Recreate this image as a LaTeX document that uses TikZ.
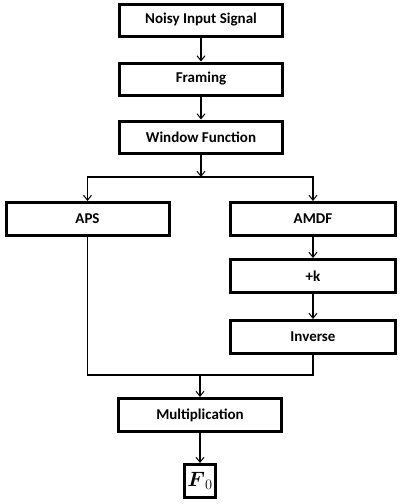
\documentclass[tikz,border=0pt]{standalone}
\usepackage{fontspec}
\setmainfont{Carlito}
\usepackage{amsmath}
\usetikzlibrary{arrows.meta}
\begin{document}
\begin{tikzpicture}[x=1pt,y=1pt,
  blk/.style={draw,line width=3pt,minimum width=163pt,minimum height=32pt,inner sep=0pt,font=\bfseries\fontsize{15}{17}\selectfont},
  conn/.style={line width=1.3pt},
  arr/.style={conn,-{Straight Barb[length=5pt,width=8pt,line width=1pt]}}]
\useasboundingbox (0,0) rectangle (400,-504);
\node[blk] (noisy) at (201,-20) {Noisy Input Signal};
\node[blk] (fram) at (201,-79) {Framing};
\node[blk] (win) at (201,-137) {Window Function};
\node[blk,minimum height=33pt] (aps) at (87.5,-219) {APS};
\node[blk,minimum height=33pt,minimum width=165pt] (amdf) at (313,-219) {AMDF};
\node[blk,minimum height=33pt,minimum width=165pt] (k) at (313,-276) {+k};
\node[blk,minimum height=33pt,minimum width=165pt] (inv) at (313,-337) {Inverse};
\node[blk,minimum height=33pt] (mult) at (200,-415) {Multiplication};
\node[draw,line width=3pt,minimum width=31pt,minimum height=33pt,inner sep=0pt,font=\fontsize{20}{22}\selectfont] (f0) at (200,-481) {$\boldsymbol{F}_0$};
\coordinate (branch) at (201,-177);
\coordinate (join) at (200,-375);
\draw[arr] (noisy) -- (fram);
\draw[arr] (fram) -- (win);
\draw[arr] (win) -- (branch);
\draw[arr] (branch) -| (aps.north);
\draw[arr] (branch) -| (amdf.north);
\draw[arr] (amdf) -- (k);
\draw[arr] (k) -- (inv);
\draw[conn] (aps.south) |- (join) -| (inv.south);
\draw[arr] (join) -- (mult);
\draw[arr] (mult) -- (f0);
\end{tikzpicture}
\end{document}
